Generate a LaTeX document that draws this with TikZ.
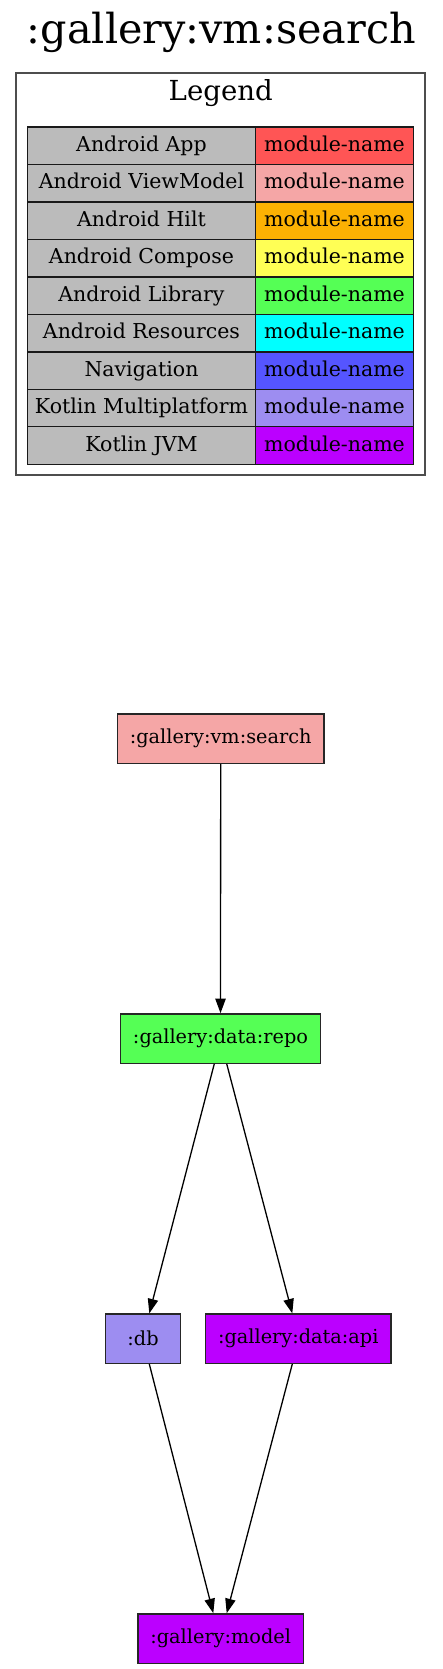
\documentclass[tikz,border=0pt]{standalone}
\usepackage{fontspec}
\setmainfont{DejaVu Serif}
\usetikzlibrary{arrows.meta}
\definecolor{appcolor}{HTML}{FF5555}
\definecolor{vmcolor}{HTML}{F5A6A6}
\definecolor{hiltcolor}{HTML}{FCB103}
\definecolor{composecolor}{HTML}{FFFF55}
\definecolor{libcolor}{HTML}{55FF55}
\definecolor{rescolor}{HTML}{00FFFF}
\definecolor{navcolor}{HTML}{5555FF}
\definecolor{kmpcolor}{HTML}{9D8DF1}
\definecolor{jvmcolor}{HTML}{BB00FF}
\definecolor{keygray}{HTML}{BBBBBB}
\definecolor{framegray}{HTML}{4D4D4D}
\tikzset{
  dep module/.style={draw=black!85,line width=1.3pt,minimum height=49.3pt,
    minimum width=75.4pt,inner xsep=12.5pt,font=\fontsize{19.3}{22}\selectfont},
  dep arrow/.style={line width=1.3pt,-{Triangle[length=14.5pt,width=10.3pt]}},
  legend cell/.style={draw=black!90,line width=1.3pt,minimum height=37.5pt,
    inner sep=0pt,text height=15pt,text depth=4pt,font=\fontsize{20.5}{24}\selectfont},
  legend frame/.style={draw=framegray,line width=1.8pt}
}
\begin{document}
\begin{tikzpicture}[x=1pt,y=-1pt]
  \useasboundingbox (0,0) rectangle (442,1669);
  \node[anchor=base,font=\fontsize{41.3}{48}\selectfont] (title) at (221.3,43.3) {:gallery:vm:search};
  % legend
  \draw[legend frame] (16.3,73.3) rectangle (425.3,474.7);
  \node[anchor=base,font=\fontsize{27.6}{32}\selectfont] (legendtitle) at (220.8,101) {Legend};
  \foreach \lbl/\col [count=\i] in {Android App/appcolor,Android ViewModel/vmcolor,
      Android Hilt/hiltcolor,Android Compose/composecolor,Android Library/libcolor,
      Android Resources/rescolor,Navigation/navcolor,Kotlin Multiplatform/kmpcolor,
      Kotlin JVM/jvmcolor}{
    \node[legend cell,fill=keygray,minimum width=227.6pt] (key\i) at (141.5,{127+37.48*(\i-0.5)}) {\lbl};
    \node[legend cell,fill=\col,minimum width=158.4pt] (swatch\i) at (334.5,{127+37.48*(\i-0.5)}) {module-name};
  }
  % dependency graph
  \node[dep module,fill=vmcolor] (vmsearch) at (220.7,738.7) {:gallery:vm:search};
  \node[dep module,fill=libcolor] (datarepo) at (220.5,1038.5) {:gallery:data:repo};
  \node[dep module,fill=kmpcolor] (db) at (143,1338.7) {:db};
  \node[dep module,fill=jvmcolor] (dataapi) at (298.3,1338.7) {:gallery:data:api};
  \node[dep module,fill=jvmcolor] (model) at (220.7,1638.5) {:gallery:model};
  \draw[dep arrow] (vmsearch) -- (datarepo);
  \draw[dep arrow] ([xshift=-6.2pt]datarepo.south) -- ([xshift=6.3pt]db.north);
  \draw[dep arrow] ([xshift=6.2pt]datarepo.south) -- ([xshift=-6pt]dataapi.north);
  \draw[dep arrow] ([xshift=6.3pt]db.south) -- ([xshift=-7.4pt]model.north);
  \draw[dep arrow] ([xshift=-6pt]dataapi.south) -- ([xshift=6pt]model.north);
\end{tikzpicture}
\end{document}
